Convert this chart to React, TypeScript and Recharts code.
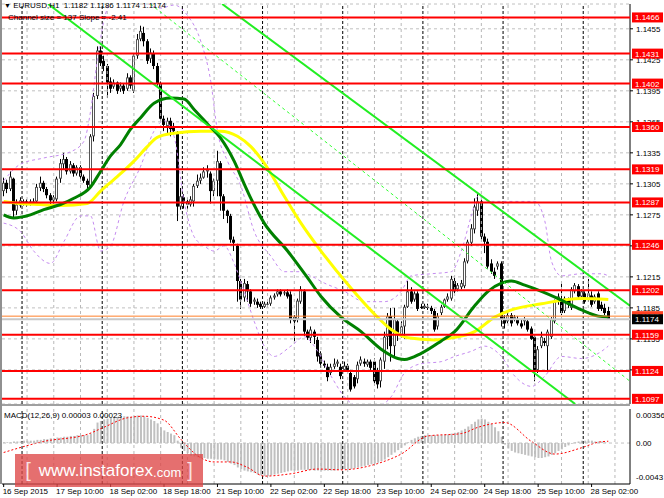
import React from 'react';
import { ComposedChart, Bar, Line, XAxis, YAxis, CartesianGrid, ReferenceLine } from 'recharts';

const FONT = '"Liberation Sans", Arial, sans-serif';

// EURUSD H1 candles, bar 0 = 16 Sep 2015 18:00
const opens = [
  1.1298, 1.1306, 1.13, 1.131, 1.1279, 1.1284, 1.1287, 1.1288, 1.1286, 1.1287,
  1.1288, 1.1301, 1.1306, 1.13, 1.1294, 1.1289, 1.129, 1.131, 1.1324, 1.1329,
  1.1317, 1.1323, 1.1315, 1.1321, 1.1312, 1.1308, 1.1302, 1.1351, 1.139, 1.1434,
  1.1424, 1.1419, 1.1404, 1.1399, 1.1403, 1.1397, 1.14, 1.1397, 1.1408, 1.1395,
  1.1429, 1.1445, 1.1451, 1.1443, 1.1426, 1.1431, 1.1419, 1.1402, 1.1368, 1.1361,
  1.1366, 1.1361, 1.1354, 1.1283, 1.1292, 1.1288, 1.1285, 1.1288, 1.1303, 1.1308,
  1.1311, 1.1317, 1.1315, 1.1298, 1.1308, 1.1325, 1.1293, 1.1279, 1.1274, 1.1251,
  1.1245, 1.1211, 1.1195, 1.1208, 1.1201, 1.1191, 1.1191, 1.1189, 1.1186, 1.1188,
  1.1189, 1.1195, 1.1198, 1.1201, 1.1199, 1.12, 1.1198, 1.1176, 1.1174, 1.1191,
  1.1201, 1.1162, 1.1156, 1.1162, 1.1154, 1.1141, 1.1131, 1.1128, 1.1122, 1.1128,
  1.1131, 1.1128, 1.1125, 1.1129, 1.1122, 1.1118, 1.1116, 1.1131, 1.1133, 1.113,
  1.1133, 1.1133, 1.1123, 1.1114, 1.1133, 1.1157, 1.1177, 1.1148, 1.1172, 1.1159,
  1.1167, 1.1186, 1.1201, 1.1193, 1.1199, 1.1186, 1.1185, 1.1186, 1.1185, 1.1182,
  1.1167, 1.118, 1.1186, 1.1193, 1.1194, 1.1211, 1.1203, 1.1205, 1.1206, 1.123,
  1.1248, 1.1261, 1.1279, 1.1288, 1.1254, 1.1249, 1.1228, 1.122, 1.1225, 1.1228,
  1.1174, 1.1172, 1.1178, 1.1174, 1.1174, 1.117, 1.1172, 1.1172, 1.1165, 1.1157,
  1.1125, 1.1148, 1.1153, 1.1148, 1.1157, 1.1172, 1.1191, 1.1193, 1.1182, 1.1193,
  1.1185, 1.1201, 1.1206, 1.1196, 1.1199, 1.1193, 1.1197, 1.1191, 1.1199, 1.1188,
  1.1185, 1.1182,
];
const highs = [
  1.1311, 1.1309, 1.1317, 1.1311, 1.129, 1.1292, 1.129, 1.129, 1.129, 1.1291,
  1.1305, 1.1312, 1.1308, 1.1302, 1.1296, 1.1294, 1.1312, 1.1329, 1.1335, 1.1331,
  1.1327, 1.1325, 1.1323, 1.1323, 1.1314, 1.131, 1.1353, 1.1393, 1.1438, 1.1438,
  1.1429, 1.1421, 1.1408, 1.1406, 1.1404, 1.1403, 1.1402, 1.1412, 1.141, 1.1431,
  1.145, 1.1458, 1.1457, 1.1445, 1.1436, 1.1434, 1.1422, 1.1404, 1.1371, 1.1369,
  1.1369, 1.1364, 1.1356, 1.1301, 1.1295, 1.1291, 1.1293, 1.1305, 1.1314, 1.1315,
  1.1321, 1.1323, 1.1317, 1.131, 1.1337, 1.1327, 1.1295, 1.128, 1.1276, 1.1254,
  1.1247, 1.1213, 1.1213, 1.1211, 1.1203, 1.1195, 1.1194, 1.1191, 1.1191, 1.1191,
  1.1197, 1.1199, 1.1203, 1.1203, 1.1202, 1.1203, 1.1201, 1.1178, 1.1194, 1.1206,
  1.1203, 1.1164, 1.1167, 1.1164, 1.1157, 1.1143, 1.1134, 1.1131, 1.1131, 1.1136,
  1.1135, 1.1131, 1.1133, 1.1131, 1.1125, 1.112, 1.1133, 1.1138, 1.1136, 1.1135,
  1.1135, 1.1136, 1.1127, 1.1137, 1.1162, 1.118, 1.1185, 1.1185, 1.1174, 1.1172,
  1.1188, 1.1211, 1.1205, 1.1201, 1.1201, 1.1189, 1.1189, 1.1189, 1.1187, 1.1184,
  1.118, 1.1188, 1.1194, 1.1199, 1.1216, 1.1214, 1.1209, 1.1212, 1.1233, 1.1251,
  1.1266, 1.1291, 1.1295, 1.129, 1.1257, 1.1252, 1.1232, 1.1224, 1.123, 1.123,
  1.1178, 1.1182, 1.118, 1.1178, 1.1177, 1.1174, 1.1176, 1.1174, 1.1167, 1.1159,
  1.1148, 1.1162, 1.1156, 1.1164, 1.1176, 1.1193, 1.1199, 1.1209, 1.1196, 1.1195,
  1.1205, 1.1209, 1.1208, 1.1203, 1.1201, 1.1213, 1.1201, 1.1198, 1.1201, 1.1191,
  1.1189, 1.1186,
];
const lows = [
  1.1293, 1.1296, 1.1298, 1.1272, 1.1275, 1.1282, 1.1284, 1.1283, 1.1284, 1.1285,
  1.1286, 1.1298, 1.1297, 1.1291, 1.1283, 1.1285, 1.1288, 1.1306, 1.1319, 1.1314,
  1.1315, 1.1312, 1.1313, 1.131, 1.1306, 1.13, 1.13, 1.1346, 1.1387, 1.1419,
  1.1414, 1.1388, 1.1393, 1.1397, 1.1392, 1.1394, 1.1392, 1.1395, 1.1397, 1.1393,
  1.1426, 1.1443, 1.1438, 1.1421, 1.1422, 1.1416, 1.14, 1.1366, 1.1356, 1.1353,
  1.1351, 1.1353, 1.1269, 1.128, 1.1281, 1.1281, 1.1283, 1.1283, 1.1301, 1.1305,
  1.131, 1.1311, 1.1286, 1.1293, 1.1293, 1.1279, 1.1271, 1.1267, 1.1248, 1.124,
  1.1191, 1.1184, 1.1191, 1.1191, 1.1186, 1.1188, 1.1185, 1.1184, 1.1185, 1.1186,
  1.1187, 1.1193, 1.1196, 1.1196, 1.1197, 1.1194, 1.117, 1.1153, 1.1171, 1.1189,
  1.1158, 1.1154, 1.1151, 1.115, 1.1133, 1.1127, 1.1127, 1.1114, 1.112, 1.1126,
  1.1128, 1.1116, 1.1123, 1.1123, 1.1104, 1.1107, 1.1112, 1.1129, 1.1128, 1.1128,
  1.1125, 1.111, 1.1107, 1.1108, 1.1126, 1.1145, 1.1133, 1.1138, 1.1153, 1.1156,
  1.1155, 1.1185, 1.1189, 1.1191, 1.1182, 1.1184, 1.1184, 1.1183, 1.1179, 1.1162,
  1.1164, 1.1178, 1.1185, 1.1191, 1.1192, 1.1199, 1.1201, 1.1203, 1.1204, 1.1228,
  1.1245, 1.1257, 1.1274, 1.1251, 1.1238, 1.1223, 1.1218, 1.1213, 1.1222, 1.1167,
  1.1165, 1.117, 1.1167, 1.1172, 1.1168, 1.1165, 1.1168, 1.1162, 1.1154, 1.1114,
  1.1122, 1.1146, 1.1148, 1.1123, 1.1155, 1.117, 1.1188, 1.1178, 1.118, 1.1185,
  1.1183, 1.1199, 1.1194, 1.1194, 1.1189, 1.1191, 1.1186, 1.1189, 1.1182, 1.1182,
  1.1178, 1.1174,
];
const closes = [
  1.1306, 1.13, 1.1312, 1.1279, 1.1285, 1.1289, 1.1288, 1.1286, 1.1288, 1.1288,
  1.1302, 1.1306, 1.13, 1.1294, 1.1289, 1.1292, 1.131, 1.1325, 1.1329, 1.1317,
  1.1324, 1.1315, 1.1321, 1.1312, 1.1308, 1.1304, 1.1351, 1.139, 1.1434, 1.1422,
  1.1419, 1.1403, 1.1397, 1.1403, 1.1395, 1.14, 1.1395, 1.1408, 1.14, 1.1429,
  1.1445, 1.1453, 1.1443, 1.1424, 1.1432, 1.1419, 1.1402, 1.1368, 1.1362, 1.1366,
  1.1358, 1.1356, 1.1283, 1.1293, 1.1288, 1.1285, 1.129, 1.1303, 1.1308, 1.1311,
  1.1317, 1.1319, 1.1298, 1.1308, 1.1327, 1.1293, 1.1279, 1.1274, 1.1251, 1.1248,
  1.1211, 1.1193, 1.1209, 1.1201, 1.1189, 1.1193, 1.1188, 1.1186, 1.1189, 1.1189,
  1.1195, 1.1197, 1.1201, 1.1198, 1.12, 1.1196, 1.1174, 1.1172, 1.1192, 1.1203,
  1.1162, 1.1156, 1.1164, 1.1157, 1.1138, 1.1131, 1.1129, 1.1118, 1.1128, 1.1131,
  1.1133, 1.1119, 1.1129, 1.1125, 1.1106, 1.1109, 1.113, 1.1135, 1.1131, 1.1133,
  1.1127, 1.1114, 1.1111, 1.1135, 1.1157, 1.1177, 1.1148, 1.1174, 1.1159, 1.1167,
  1.1186, 1.1201, 1.1191, 1.1199, 1.1184, 1.1185, 1.1187, 1.1185, 1.1182, 1.1164,
  1.1177, 1.1186, 1.1193, 1.1196, 1.1213, 1.1201, 1.1207, 1.1209, 1.123, 1.1249,
  1.1262, 1.1283, 1.1288, 1.1254, 1.1249, 1.1225, 1.122, 1.1216, 1.1228, 1.1174,
  1.117, 1.1178, 1.117, 1.1176, 1.117, 1.1167, 1.1174, 1.1164, 1.1155, 1.1125,
  1.1145, 1.1157, 1.1151, 1.1162, 1.1174, 1.1191, 1.1196, 1.118, 1.1194, 1.1188,
  1.1203, 1.1207, 1.1196, 1.1201, 1.1191, 1.1199, 1.1188, 1.1196, 1.1184, 1.1184,
  1.118, 1.1174,
];

// indicator lines at some bars: [bar, price]
const greenMa: [number, number][] = [
  [0, 1.1275], [3, 1.1272], [8, 1.1275], [12, 1.128], [17, 1.1285], [21, 1.1291], [26, 1.1302],
  [29, 1.1317], [32, 1.1332], [35, 1.1343], [38, 1.1358], [41, 1.1369], [45, 1.1383], [50, 1.1388],
  [54, 1.1387], [57, 1.1377], [61, 1.1363], [65, 1.1349], [69, 1.1327], [72, 1.1305], [74, 1.1291],
  [78, 1.1267], [85, 1.124], [91, 1.1214], [95, 1.1196], [101, 1.1176], [107, 1.1162], [113, 1.1145],
  [118, 1.1136], [120, 1.1135], [125, 1.1141], [131, 1.1153], [135, 1.1162], [141, 1.1187],
  [145, 1.1201], [149, 1.1209], [152, 1.1211], [156, 1.1207], [161, 1.1201], [166, 1.1194],
  [173, 1.1183], [178, 1.1177], [181, 1.1176],
];
const yellowMa: [number, number][] = [
  [0, 1.1288], [5, 1.1286], [11, 1.1285], [17, 1.1284], [25, 1.1286], [29, 1.1298], [34, 1.1312],
  [39, 1.1327], [43, 1.1341], [46, 1.135], [51, 1.1354], [59, 1.1356], [65, 1.1356], [70, 1.1351],
  [74, 1.1341], [78, 1.1325], [84, 1.1293], [89, 1.1267], [95, 1.124], [104, 1.1204], [111, 1.1179],
  [116, 1.1164], [121, 1.1156], [129, 1.1154], [134, 1.1156], [141, 1.1162], [147, 1.1176],
  [152, 1.1183], [161, 1.1189], [173, 1.1194], [181, 1.1193],
];
const bandUpper: [number, number][] = [
  [0, 1.1308], [5, 1.1324], [12, 1.133], [20, 1.1336], [24, 1.1346], [26, 1.1375], [28, 1.1424],
  [30, 1.1463], [32, 1.1482], [36, 1.1497], [42, 1.1482], [47, 1.1475], [51, 1.1478], [55, 1.1468],
  [59, 1.1443], [62, 1.1404], [64, 1.1356], [67, 1.1327], [71, 1.1303], [75, 1.1259], [80, 1.1235],
  [84, 1.122], [89, 1.122], [92, 1.1216], [96, 1.1209], [102, 1.1201], [108, 1.1191], [114, 1.1191],
  [119, 1.1201], [122, 1.1216], [128, 1.1218], [134, 1.122], [137, 1.124], [140, 1.1274],
  [142, 1.1293], [146, 1.1288], [155, 1.1288], [159, 1.1288], [162, 1.1269], [164, 1.123],
  [167, 1.1216], [173, 1.1218], [179, 1.1218], [181, 1.1216],
];
const bandLower: [number, number][] = [
  [0, 1.1267], [5, 1.1259], [9, 1.124], [14, 1.1228], [18, 1.1249], [23, 1.1274], [26, 1.1274],
  [29, 1.124], [32, 1.1245], [36, 1.1288], [41, 1.1322], [45, 1.1356], [48, 1.1366], [51, 1.1351],
  [54, 1.1288], [57, 1.1254], [60, 1.1245], [63, 1.124], [66, 1.1245], [69, 1.1228], [72, 1.1201],
  [75, 1.1172], [78, 1.1148], [81, 1.1138], [86, 1.1148], [90, 1.1157], [93, 1.1148], [98, 1.1119],
  [102, 1.1099], [107, 1.1089], [111, 1.1089], [116, 1.1099], [120, 1.1122], [125, 1.1131],
  [131, 1.1133], [135, 1.1138], [140, 1.1143], [144, 1.1148], [149, 1.1138], [153, 1.1119],
  [158, 1.1109], [162, 1.1119], [167, 1.1138], [173, 1.1136], [179, 1.1143], [181, 1.1148],
];

const levels = [1.1466, 1.1431, 1.1402, 1.136, 1.1319, 1.1287, 1.1246, 1.1202, 1.1159, 1.1124, 1.1097];
const priceTicks = [1.1455, 1.1425, 1.1395, 1.1365, 1.1335, 1.1305, 1.1275, 1.1245, 1.1215, 1.1185, 1.1155, 1.1125];
const askPrice = 1.1177;
const lastPrice = 1.1174;

// trend channel, end points as [bar, price]
const channelUpper = [{ x: 65.4, y: 1.1479 }, { x: 187.5, y: 1.1187 }];
const channelLower = [{ x: 13.3, y: 1.1479 }, { x: 171.1, y: 1.1092 }];
const channelMid = [{ x: 43.9, y: 1.1479 }, { x: 187.5, y: 1.1114 }];

const timeLabels = [
  '16 Sep 2015', '17 Sep 10:00', '18 Sep 02:00', '18 Sep 18:00', '21 Sep 10:00', '22 Sep 02:00',
  '22 Sep 18:00', '23 Sep 10:00', '24 Sep 02:00', '24 Sep 18:00', '25 Sep 10:00', '28 Sep 02:00',
];
const timeLabelBars = [0, 16, 32, 48, 64, 80, 96, 112, 128, 144, 160, 176];
const daySeparators = [6, 30, 54, 78, 102, 126, 150, 174];
const gridBars = [7, 15, 23, 31, 39, 47, 55, 63, 71, 79, 87, 95, 103, 111, 119, 127, 135, 143, 151, 159, 167, 175, 183];

// MACD(12,26,9) main line per bar, signal read at some bars
const macdMain = [
  0.0001, 0.0001, 0.0001, 0.0002, 0.0002, 0.0002, 0.0003, 0.0003, 0.0003, 0.0003,
  0.0004, 0.0004, 0.0005, 0.0005, 0.0006, 0.0006, 0.0007, 0.0007, 0.0008, 0.0008,
  0.0009, 0.0009, 0.001, 0.001, 0.001, 0.001, 0.0012, 0.0018, 0.0026, 0.0028,
  0.003, 0.0031, 0.0032, 0.0033, 0.0033, 0.0034, 0.0034, 0.0034, 0.0033, 0.0034,
  0.0035, 0.0035, 0.0034, 0.0032, 0.003, 0.0028, 0.0025, 0.002, 0.0016, 0.0014,
  0.0012, 0.001, 0.0003, -0.0006, -0.001, -0.0013, -0.0016, -0.0017, -0.0018, -0.0019,
  -0.0019, -0.002, -0.002, -0.002, -0.0021, -0.0021, -0.0022, -0.0024, -0.0026, -0.0028,
  -0.0031, -0.0033, -0.0035, -0.0036, -0.0037, -0.0038, -0.004, -0.0041, -0.0042, -0.0042,
  -0.0041, -0.004, -0.0039, -0.0038, -0.0037, -0.0036, -0.0035, -0.0035, -0.0035, -0.0034,
  -0.0034, -0.0034, -0.0034, -0.0035, -0.0035, -0.0035, -0.0035, -0.0035, -0.0035, -0.0035,
  -0.0034, -0.0034, -0.0033, -0.0033, -0.0033, -0.0032, -0.0031, -0.003, -0.0029, -0.0028,
  -0.0027, -0.0026, -0.0025, -0.0023, -0.0021, -0.0018, -0.0015, -0.0012, -0.0009, -0.0006,
  -0.0003, 0.0001, 0.0004, 0.0006, 0.0008, 0.0009, 0.001, 0.001, 0.001, 0.001,
  0.001, 0.001, 0.0011, 0.0011, 0.0012, 0.0013, 0.0014, 0.0016, 0.0018, 0.0021,
  0.0024, 0.0027, 0.003, 0.0031, 0.003, 0.0027, 0.0024, 0.002, 0.0015, 0.0008,
  -0.0002, -0.0007, -0.001, -0.0012, -0.0013, -0.0014, -0.0015, -0.0016, -0.0017, -0.0018,
  -0.0019, -0.0019, -0.0018, -0.0017, -0.0015, -0.0013, -0.001, -0.0008, -0.0005, -0.0003,
  -0.0001, 0.0001, 0.0002, 0.0003, 0.0003, 0.0003, 0.0003, 0.0002, 0.0002, 0.0002,
  0.0001, 0.00003,
];
const macdSignal: [number, number][] = [
  [0, -0.0012], [12, 0.0002], [25, 0.0011], [30, 0.002], [37, 0.0032], [42, 0.0034], [48, 0.0029],
  [53, 0.0005], [58, -0.0016], [63, -0.0024], [68, -0.0024], [73, -0.0031], [78, -0.0042],
  [86, -0.0039], [94, -0.0033], [101, -0.0034], [112, -0.0026], [119, -0.0014], [127, 0.0009],
  [137, 0.0012], [142, 0.002], [150, 0.0026], [158, 0.0002], [165, -0.0014], [173, -0.0006],
  [178, 0.0001], [181, 0.00023],
];
const macdScale = [0.00356, 0, -0.0043];
const macdScaleText = ['0.00356', '0.00', '-0.0043'];

const toMap = (pts: [number, number][]) => new Map(pts.map(([i, v]) => [i, v]));
const gMap = toMap(greenMa);
const yMap = toMap(yellowMa);
const upMap = toMap(bandUpper);
const loMap = toMap(bandLower);
const sigMap = toMap(macdSignal);

const bars = opens.map((o, i) => ({
  i,
  o,
  h: highs[i],
  l: lows[i],
  c: closes[i],
  range: [lows[i], highs[i]],
  green: gMap.get(i),
  yellow: yMap.get(i),
  up: upMap.get(i),
  lo: loMap.get(i),
}));

const macdData = macdMain.map((v, i) => ({ i, hist: v, sig: sigMap.get(i) }));

const X_DOMAIN: [number, number] = [-0.5, 187.5];
const PRICE_DOMAIN: [number, number] = [1.1092, 1.1479];
const MAIN_MARGIN = { top: 4, right: 0, bottom: 2, left: 2 };

const Candle = (props: any) => {
  const { x, y, width, height, payload } = props;
  if (x == null || y == null) return null;
  const top = Math.min(y, y + height);
  const span = Math.abs(height);
  const { o, h, l, c } = payload;
  const yOf = (v: number) => (h === l ? top : top + ((h - v) / (h - l)) * span);
  const px = Math.floor(x + width / 2);
  const yo = yOf(o);
  const yc = yOf(c);
  const bTop = Math.min(yo, yc);
  const bH = Math.max(1, Math.abs(yo - yc));
  const bull = c >= o;
  return (
    <g>
      <line x1={px + 0.5} x2={px + 0.5} y1={top} y2={top + span} stroke="#000" strokeWidth={1} />
      {bull ? (
        <g>
          <rect x={px - 1} y={bTop} width={3} height={bH} fill="#555" />
          {bH > 2 && <rect x={px} y={bTop + 1} width={1} height={bH - 2} fill="#fff" />}
        </g>
      ) : (
        <rect x={px - 1} y={bTop} width={3} height={bH} fill="#000" />
      )}
    </g>
  );
};

const priceTag = (text: string, bg: string) => (props: any) => {
  const vb = props.viewBox || {};
  const x = (vb.x ?? 0) + (vb.width ?? 0) + 2;
  const y = vb.y ?? 0;
  return (
    <g>
      <rect x={x} y={y - 5} width={31} height={10} fill={bg} />
      <text x={x + 3} y={y + 3} fill="#fff" fontSize={8} fontFamily={FONT}>
        {text}
      </text>
    </g>
  );
};

const scaleText = (text: string, dy: number) => (props: any) => {
  const vb = props.viewBox || {};
  const x = (vb.x ?? 0) + (vb.width ?? 0) + 6;
  const y = (vb.y ?? 0) + dy;
  return (
    <text x={x} y={y} fill="#000" fontSize={8} fontFamily={FONT}>
      {text}
    </text>
  );
};

// a scale label sitting right under a level's tag is covered by it, as in the terminal
const coveredByTag = (v: number) => levels.some((lv) => Math.abs(lv - v) < 0.00025);

const PriceTick = (props: any) => {
  const { x, y, payload } = props;
  const v = Number(payload.value);
  if (coveredByTag(v)) return null;
  return (
    <text x={x} y={y + 3} fontSize={8} fontFamily={FONT} fill="#000">
      {v.toFixed(4)}
    </text>
  );
};

const TimeTick = (props: any) => {
  const { x, y, payload } = props;
  const idx = timeLabelBars.indexOf(payload.value);
  return (
    <text x={x - 1} y={y + 7} fontSize={8} fontFamily={FONT} fill="#000">
      {timeLabels[idx]}
    </text>
  );
};

const verticalGuides = () => [
  ...gridBars.map((g) => (
    <ReferenceLine key={'g' + g} x={g} stroke="#b8b8b8" strokeDasharray="3 3" ifOverflow="hidden" />
  )),
  ...daySeparators.map((d) => (
    <ReferenceLine key={'d' + d} x={d - 0.5} stroke="#000" strokeDasharray="3 2" ifOverflow="hidden" />
  )),
];

export default function App() {
  return (
    <div style={{ position: 'absolute', left: 0, top: 0, width: 664, height: 498, background: '#fff', overflow: 'hidden' }}>
      {/* price window */}
      <div style={{ position: 'absolute', left: 0, top: 0 }}>
        <ComposedChart width={664} height={406} data={bars} margin={MAIN_MARGIN}>
          <CartesianGrid vertical={false} stroke="#c0c0c0" strokeDasharray="3 3" />
          <XAxis type="number" dataKey="i" domain={X_DOMAIN} allowDataOverflow hide />
          <YAxis
            orientation="right"
            width={34}
            domain={PRICE_DOMAIN}
            allowDataOverflow
            ticks={priceTicks}
            interval={0}
            tick={<PriceTick />}
            tickSize={3}
            tickMargin={3}
            tickLine={{ stroke: '#000' }}
            axisLine={{ stroke: '#000' }}
          />
          {verticalGuides()}
          <Bar dataKey="range" barSize={3} shape={(p: any) => <Candle {...p} />} isAnimationActive={false} />
          <Line type="monotone" dataKey="up" stroke="#c58cf0" strokeWidth={1} strokeDasharray="3 3" dot={false} connectNulls isAnimationActive={false} />
          <Line type="monotone" dataKey="lo" stroke="#c58cf0" strokeWidth={1} strokeDasharray="3 3" dot={false} connectNulls isAnimationActive={false} />
          <Line type="monotone" dataKey="yellow" stroke="#ffff00" strokeWidth={3} dot={false} connectNulls isAnimationActive={false} />
          <Line type="monotone" dataKey="green" stroke="#008000" strokeWidth={3} dot={false} connectNulls isAnimationActive={false} />
          <ReferenceLine segment={channelMid} stroke="#33ff33" strokeWidth={1} strokeDasharray="3 3" ifOverflow="hidden" />
          <ReferenceLine segment={channelUpper} stroke="#22ee22" strokeWidth={2} ifOverflow="hidden" />
          <ReferenceLine segment={channelLower} stroke="#22ee22" strokeWidth={2} ifOverflow="hidden" />
        </ComposedChart>
      </div>

      {/* horizontal levels and their price tags, drawn over the price scale */}
      <div style={{ position: 'absolute', left: 0, top: 0, pointerEvents: 'none' }}>
        <ComposedChart width={664} height={406} data={bars} margin={MAIN_MARGIN}>
          <XAxis type="number" dataKey="i" domain={X_DOMAIN} allowDataOverflow hide />
          <YAxis orientation="right" width={34} domain={PRICE_DOMAIN} allowDataOverflow tick={false} tickLine={false} axisLine={false} />
          {levels.map((lv) => (
            <ReferenceLine key={lv} y={lv} stroke="#ff0000" strokeWidth={2} label={priceTag(lv.toFixed(4), '#ff0000')} />
          ))}
          <ReferenceLine y={askPrice} stroke="#ff7f27" strokeWidth={1} label={priceTag(askPrice.toFixed(4), '#ff4020')} />
          <ReferenceLine y={lastPrice} stroke="#c8c8c8" strokeWidth={2} label={priceTag(lastPrice.toFixed(4), '#000')} />
        </ComposedChart>
      </div>

      <div style={{ position: 'absolute', left: 2, top: 404, width: 628, height: 2, background: '#a0a0a0' }} />

      {/* MACD window */}
      <div style={{ position: 'absolute', left: 0, top: 406 }}>
        <ComposedChart width={664} height={92} data={macdData} margin={{ top: 3, right: 0, bottom: 0, left: 2 }}>
          <XAxis
            type="number"
            dataKey="i"
            domain={X_DOMAIN}
            allowDataOverflow
            ticks={timeLabelBars}
            interval={0}
            height={14}
            tick={<TimeTick />}
            tickSize={3}
            tickMargin={0}
            tickLine={{ stroke: '#000' }}
            axisLine={{ stroke: '#000' }}
          />
          <YAxis
            orientation="right"
            width={34}
            domain={[-0.0052, 0.00432]}
            allowDataOverflow
            tick={false}
            tickLine={false}
            axisLine={{ stroke: '#000' }}
          />
          {verticalGuides()}
          <Bar dataKey="hist" fill="#c0c0c0" barSize={2} isAnimationActive={false} />
          <Line type="monotone" dataKey="sig" stroke="#ff0000" strokeWidth={1} strokeDasharray="2 2" dot={false} connectNulls isAnimationActive={false} />
          {macdScale.map((v, k) => (
            <ReferenceLine
              key={'m' + k}
              y={v}
              stroke={v === 0 ? '#c0c0c0' : 'none'}
              strokeDasharray="3 3"
              label={scaleText(macdScaleText[k], 3)}
            />
          ))}
        </ComposedChart>
      </div>

      <div style={{ position: 'absolute', left: 0, top: 0, width: 2, height: 484, background: '#909090' }} />

      <div style={{ position: 'absolute', left: 4, top: 1, fontFamily: FONT, fontSize: 8, color: '#000', whiteSpace: 'nowrap' }}>
        <span style={{ fontSize: 7 }}>▼</span> EURUSD,H1&nbsp; 1.1182 1.1186 1.1174 1.1174
      </div>
      <div style={{ position: 'absolute', left: 8, top: 13, fontFamily: FONT, fontSize: 8, color: '#000', whiteSpace: 'nowrap' }}>
        Channel size = 137 Slope = -2.41
      </div>
      <div style={{ position: 'absolute', left: 4, top: 411, fontFamily: FONT, fontSize: 8, color: '#000', whiteSpace: 'nowrap' }}>
        MACD(12,26,9) 0.00003 0.00023
      </div>

      <div
        style={{
          position: 'absolute',
          left: 15,
          top: 454,
          width: 188,
          height: 33,
          background: 'rgba(222, 70, 70, 0.78)',
          color: '#fff',
          fontFamily: FONT,
          display: 'flex',
          alignItems: 'center',
          justifyContent: 'center',
          whiteSpace: 'nowrap',
        }}
      >
        <span style={{ fontSize: 20, opacity: 0.8 }}>[</span>
        <span style={{ fontSize: 17, marginLeft: 8 }}>www.instaforex</span>
        <span style={{ fontSize: 13, marginTop: 3 }}>.com</span>
        <span style={{ fontSize: 20, marginLeft: 6, opacity: 0.8 }}>]</span>
      </div>
    </div>
  );
}
